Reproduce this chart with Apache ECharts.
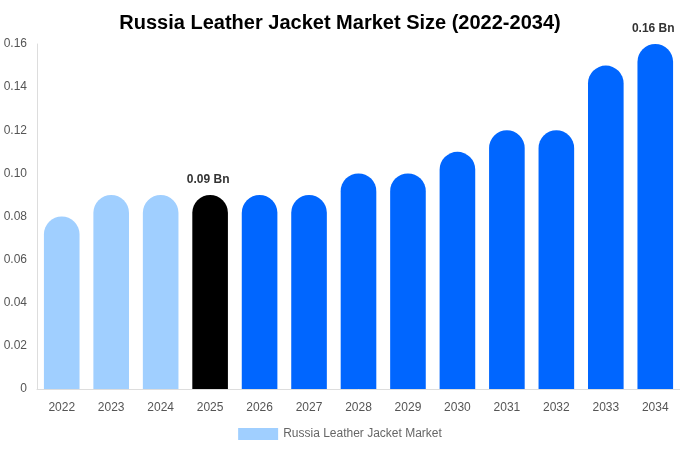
<!DOCTYPE html>
<html><head><meta charset="utf-8">
<script src="https://cdn.jsdelivr.net/npm/echarts@6/dist/echarts.min.js"></script>
<style>html,body{margin:0;padding:0;background:#fff}#c{width:680px;height:450px}</style>
</head><body><div id="c"></div>
<script>
const years = ['2022','2023','2024','2025','2026','2027','2028','2029','2030','2031','2032','2033','2034'];
const values = [0.08,0.09,0.09,0.09,0.09,0.09,0.10,0.10,0.11,0.12,0.12,0.15,0.16];
const barColors = ['#a0cfff','#a0cfff','#a0cfff','#000000','#0066ff','#0066ff','#0066ff','#0066ff','#0066ff','#0066ff','#0066ff','#0066ff','#0066ff'];
const labeledYears = ['2025','2034'];
const yTicks = ['0','0.02','0.04','0.06','0.08','0.10','0.12','0.14','0.16'];

const chart = echarts.init(document.getElementById('c'));
chart.setOption({
  animation:false,
  title:{text:'Russia Leather Jacket Market Size (2022-2034)',left:'center',top:8,
    textStyle:{fontFamily:'Liberation Sans',fontSize:20,fontWeight:'bold',color:'#000'}},
  legend:{bottom:5,left:'center',itemWidth:40,itemHeight:12,icon:'rect',
    textStyle:{fontFamily:'Liberation Sans',fontSize:12,color:'#666'},
    data:[{name:'Russia Leather Jacket Market',itemStyle:{color:'#a0cfff'}}]},
  grid:{left:37,right:0,top:44,bottom:61,containLabel:false},
  xAxis:{type:'category',data:years,
    axisLine:{lineStyle:{color:'#ddd'}},axisTick:{show:false},
    axisLabel:{color:'#555',fontFamily:'Liberation Sans',fontSize:12,margin:13}},
  yAxis:{type:'value',min:0,max:0.16,interval:0.02,
    axisLine:{show:true,lineStyle:{color:'#ddd'}},splitLine:{show:false},
    axisLabel:{color:'#555',fontFamily:'Liberation Sans',fontSize:12,margin:10,
      formatter:(v)=>yTicks[Math.round(v/0.02)]}},
  series:[{name:'Russia Leather Jacket Market',type:'bar',barWidth:'72%',
    data:values.map((v,i)=>({value:v,itemStyle:{color:barColors[i],borderRadius:[18,18,0,0]},
      label:{show:labeledYears.includes(years[i]),position:'top',distance:9,offset:[-2,0],
        formatter:v.toFixed(2)+' Bn',fontFamily:'Liberation Sans',fontWeight:'bold',fontSize:12,color:'#333'}}))}]
});
</script></body></html>
